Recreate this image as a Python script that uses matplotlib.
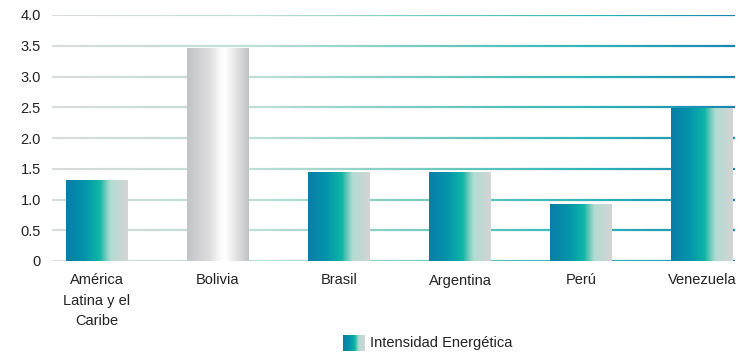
import numpy as np
import matplotlib
matplotlib.use("Agg")
import matplotlib.pyplot as plt
from matplotlib.colors import LinearSegmentedColormap
from matplotlib.collections import LineCollection

plt.rcParams['font.family'] = ['Liberation Sans', 'DejaVu Sans']

categories = ["América\nLatina y el\nCaribe", "Bolivia", "Brasil", "Argentina", "Perú", "Venezuela"]
values = [1.32, 3.47, 1.44, 1.45, 0.93, 2.49]
highlight = ["Bolivia"]
yticks = [0, 0.5, 1.0, 1.5, 2.0, 2.5, 3.0, 3.5, 4.0]
ytick_labels = ["0", "0.5", "1.0", "1.5", "2.0", "2.5", "3.0", "3.5", "4.0"]
legend_label = "Intensidad Energética"

teal_cmap = LinearSegmentedColormap.from_list("teal", [
    (0.0, "#0a7ea8"), (0.3, "#0394aa"), (0.55, "#10b7a7"),
    (0.62, "#5ec6b6"), (0.72, "#b2dcd2"), (1.0, "#d4d4d4")])
gray_cmap = LinearSegmentedColormap.from_list("gray", [
    (0.0, "#c3c4c6"), (0.35, "#dcdcdd"), (0.55, "#fbfbfb"), (0.62, "#ffffff"),
    (0.8, "#e2e2e3"), (1.0, "#c0c1c3")])
grid_cmap = LinearSegmentedColormap.from_list("grid", [
    (0.0, "#d8dcdc"), (0.3, "#bcdfd6"), (0.55, "#74cbbe"), (0.8, "#2cb4b8"), (1.0, "#1886b0")])

fig = plt.figure(figsize=(7.55, 3.55), dpi=100)
ax = fig.add_axes([52/755, 1-261/355, (735-52)/755, (261-15)/355])

x = np.arange(len(categories))
width = 0.51
xlim = (-0.37, 5.27)
ylim = (0, 4)

# gradient gridlines
xs = np.linspace(xlim[0], xlim[1], 300)
for yv in yticks:
    pts = np.array([xs, np.full_like(xs, yv)]).T.reshape(-1, 1, 2)
    segs = np.concatenate([pts[:-1], pts[1:]], axis=1)
    lc = LineCollection(segs, colors=grid_cmap(np.linspace(0, 1, len(segs))),
                        linewidths=1.6, zorder=1, capstyle='butt')
    ax.add_collection(lc)

grad = np.linspace(0, 1, 256).reshape(1, -1)
bars = ax.bar(x, values, width=width, facecolor='none', edgecolor='none', zorder=2)
for cat, b in zip(categories, bars):
    cmap = gray_cmap if cat in highlight else teal_cmap
    x0 = b.get_x()
    im = ax.imshow(grad, extent=[x0, x0 + b.get_width(), 0, b.get_height()],
                   aspect='auto', cmap=cmap, zorder=3, interpolation='bicubic')
    im.set_clip_path(b)

ax.set_xlim(*xlim)
ax.set_ylim(*ylim)
ax.set_yticks(yticks)
ax.set_yticklabels(ytick_labels)
ax.set_xticks(x)
ax.set_xticklabels(categories, linespacing=1.55)
ax.tick_params(axis='both', length=0, labelsize=10.5, colors='#222222')
ax.tick_params(axis='y', pad=8)
ax.tick_params(axis='x', pad=9)
for s in ax.spines.values():
    s.set_visible(False)

# legend
lax = fig.add_axes([343/755, 1-351/355, 22/755, 16/355])
lax.imshow(grad, aspect='auto', cmap=teal_cmap, interpolation='bicubic')
lax.axis('off')
fig.text(370/755, 1-343/355, legend_label, fontsize=10.5, va='center', ha='left', color='#222222')

fig.savefig("out.png", dpi=100)
